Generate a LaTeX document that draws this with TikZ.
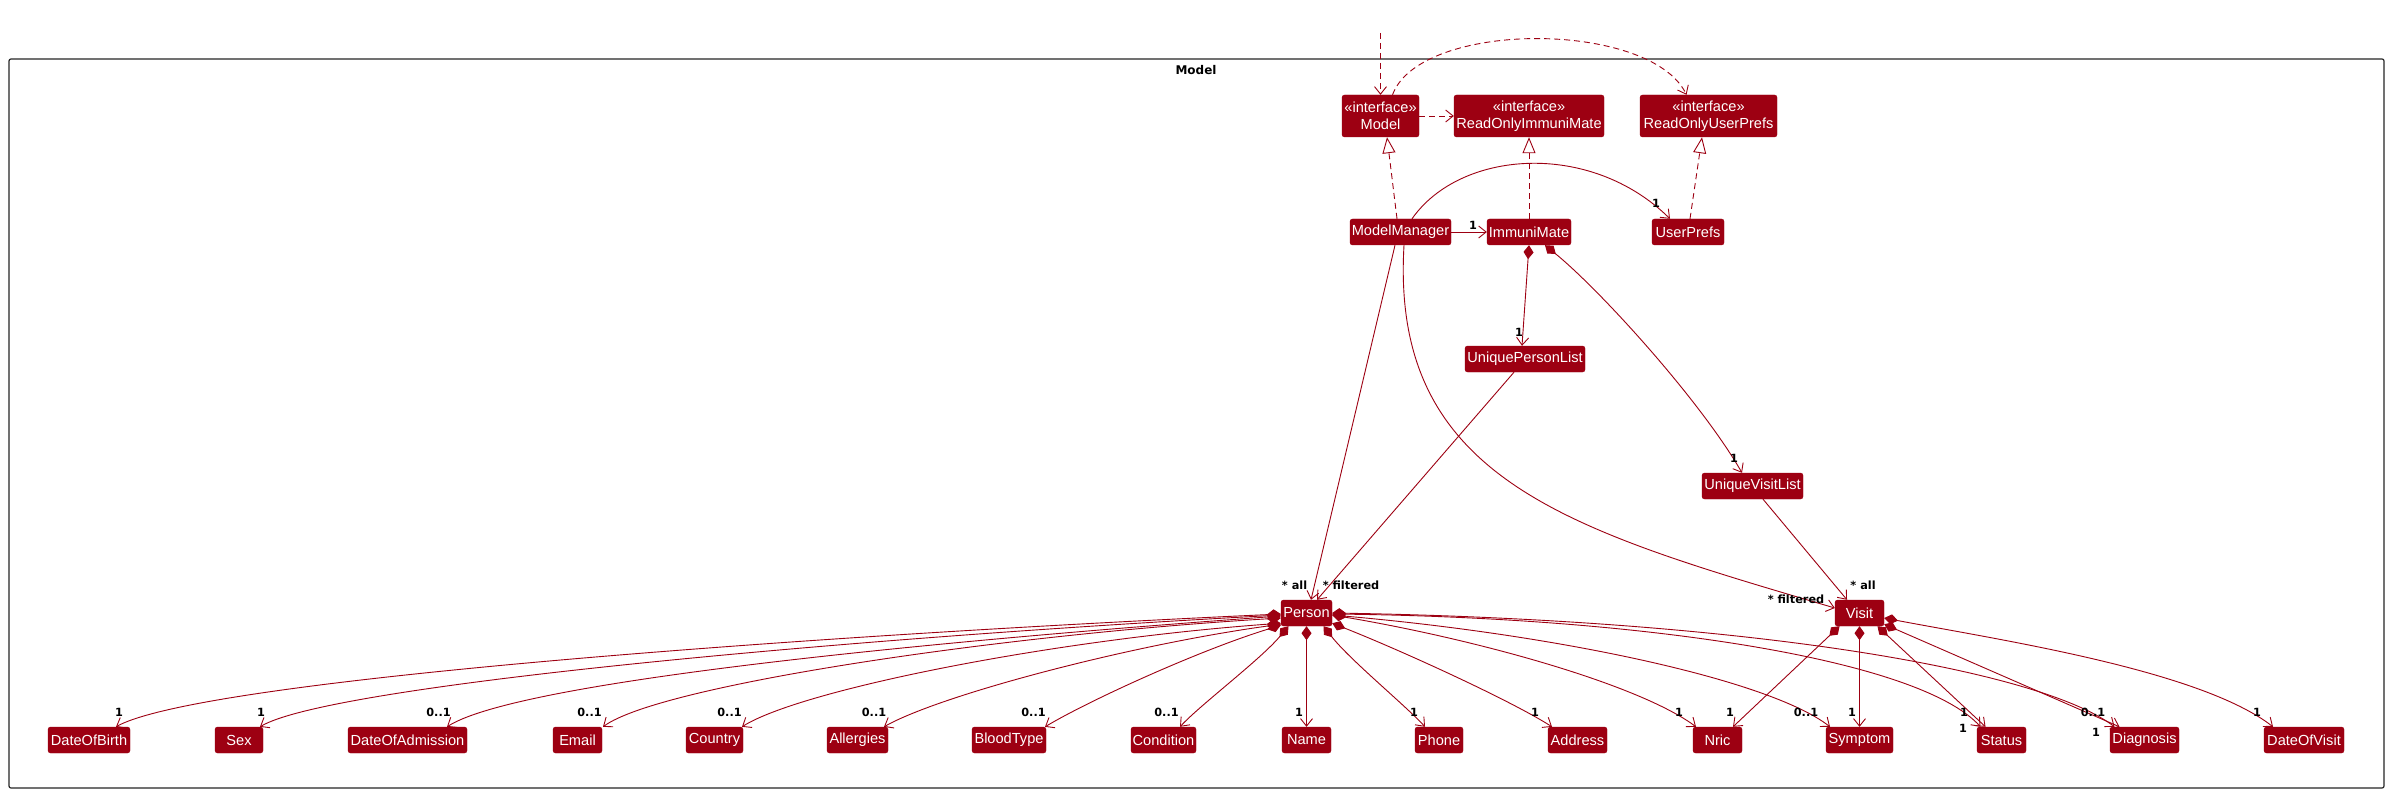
\documentclass[tikz,border=0pt]{standalone}
\usepackage{fontspec}
\setmainfont{Liberation Sans}
\newfontfamily\labfnt{DejaVu Sans}
\usetikzlibrary{arrows.meta,calc}
\definecolor{mred}{HTML}{9D0012}
\begin{document}
\begin{tikzpicture}[x=1pt,y=-1pt,
  cls/.style={rectangle, rounded corners=2.5pt, fill=mred, draw=mred, text=white,
    font=\fontsize{14.6}{17.5}\selectfont, minimum height=26pt, inner sep=0pt, align=center},
  iface/.style={cls, minimum height=42pt},
  mult/.style={font=\labfnt\bfseries\fontsize{11.3}{13}\selectfont, text=black, inner sep=0pt},
  edge/.style={draw=mred, line width=0.9pt},
  assoc/.style={edge, -{Straight Barb[length=7.5pt,width=12pt]}},
  comp/.style={edge, {Diamond[fill=mred,length=14pt,width=10pt]}-{Straight Barb[length=7.5pt,width=12pt]}},
  dep/.style={assoc, dash pattern=on 6pt off 4pt},
  real/.style={edge, dash pattern=on 6pt off 4pt, -{Triangle[open,fill=white,length=16pt,width=13pt]}},
]
\useasboundingbox[fill=white] (0,0) rectangle (2390,794);
\draw[line width=1.2pt, draw=black!85, rounded corners=2pt] (9,59) rectangle (2384,788);
\node[font=\labfnt\bfseries\fontsize{12}{14}\selectfont] (title) at (1196,70) {Model};

% classes
\node[iface, minimum width=77pt] (model) at (1380.5,116) {«interface»\\Model};
\node[iface, minimum width=150pt] (roim) at (1529,116) {«interface»\\ReadOnlyImmuniMate};
\node[iface, minimum width=137pt] (rousp) at (1708.5,116) {«interface»\\ReadOnlyUserPrefs};
\node[cls, minimum width=101pt] (mm) at (1400.5,232) {ModelManager};
\node[cls, minimum width=84pt] (im) at (1529,232) {ImmuniMate};
\node[cls, minimum width=72pt] (up) at (1688,232) {UserPrefs};
\node[cls, minimum width=120pt] (upl) at (1525,359) {UniquePersonList};
\node[cls, minimum width=101pt] (uvl) at (1752.5,486) {UniqueVisitList};
\node[cls, minimum width=51pt] (person) at (1306.5,613) {Person};
\node[cls, minimum width=49pt] (visit) at (1859.5,613) {Visit};

\node[cls, minimum width=82pt] (dob) at (89,740) {DateOfBirth};
\node[cls, minimum width=48pt] (sex) at (239,740) {Sex};
\node[cls, minimum width=119pt] (doa) at (407.5,740) {DateOfAdmission};
\node[cls, minimum width=49pt] (email) at (577.5,740) {Email};
\node[cls, minimum width=57pt] (country) at (714.5,740) {Country};
\node[cls, minimum width=61pt] (allergies) at (857.5,740) {Allergies};
\node[cls, minimum width=74pt] (bloodtype) at (1009,740) {BloodType};
\node[cls, minimum width=65pt] (condition) at (1163.5,740) {Condition};
\node[cls, minimum width=49pt] (name) at (1306.5,740) {Name};
\node[cls, minimum width=48pt] (phone) at (1439,740) {Phone};
\node[cls, minimum width=59pt] (address) at (1577.5,740) {Address};
\node[cls, minimum width=49pt] (nric) at (1717.5,740) {Nric};
\node[cls, minimum width=67pt] (symptom) at (1859.5,740) {Symptom};
\node[cls, minimum width=49pt] (status) at (2001.5,740) {Status};
\node[cls, minimum width=69pt] (diagnosis) at (2144.5,740) {Diagnosis};
\node[cls, minimum width=80pt] (dov) at (2304,740) {DateOfVisit};

% top connectors
\coordinate (topin) at (1380.5,33);
\draw[dep] (topin) -- (model.north);
\draw[dep] (model.east) -- (roim.west);
\draw[dep] ([xshift=12pt]model.north) .. controls (1420,20) and (1650,20) .. ([xshift=-22pt]rousp.north);
\draw[real] ([xshift=-3.5pt]mm.north) -- ([xshift=6.5pt]model.south);
\draw[real] (im.north) -- (roim.south);
\draw[real] ([xshift=2pt]up.north) -- ([xshift=-6.5pt]rousp.south);
\draw[assoc] ([xshift=11.5pt]mm.north) .. controls (1460,150) and (1590,140) .. ([xshift=-18pt]up.north);
\draw[assoc] (mm.east) -- (im.west);
\draw[comp] (im.south) -- ([xshift=-3pt]upl.north);
\draw[comp] ([xshift=16pt]im.south) .. controls (1600,290) and (1700,400) .. ([xshift=-10.5pt]uvl.north);

\draw[assoc] ([xshift=-5.5pt]mm.south) -- ([xshift=4.5pt]person.north);
\draw[assoc] ([xshift=-11pt]upl.south) -- ([xshift=10.5pt]person.north);
\draw[assoc] ([xshift=3.5pt]mm.south) .. controls (1390,480) and (1570,530) .. ([yshift=5pt]visit.west);
\draw[assoc] ([xshift=10.5pt]uvl.south) -- ([xshift=-12.5pt]visit.north);

% person fan
\draw[comp] ([yshift=-1pt]person.west) .. controls (800,636) and (200,680) .. ([xshift=27pt]dob.north);
\draw[comp] ([yshift=-2pt]person.west) .. controls (850,638) and (330,685) .. ([xshift=21pt]sex.north);
\draw[comp] ([yshift=-3pt]person.west) .. controls (950,640) and (520,680) .. ([xshift=39.5pt]doa.north);
\draw[comp] ([yshift=-5pt]person.west) .. controls (1000,635) and (660,685) .. ([xshift=25.5pt]email.north);
\draw[comp] ([yshift=3pt]person.south west) .. controls (1050,640) and (800,690) .. ([xshift=27.5pt]country.north);
\draw[comp] ([yshift=2pt]person.south west) .. controls (1130,645) and (940,695) .. ([xshift=26.5pt]allergies.north);
\draw[comp] ([yshift=1pt]person.south west) .. controls (1200,650) and (1090,700) .. ([xshift=36pt]bloodtype.north);
\draw[comp] ([xshift=-18pt]person.south) .. controls (1260,660) and (1200,705) .. ([xshift=16.5pt]condition.north);
\draw[comp] (person.south) -- (name.north);
\draw[comp] ([xshift=17pt]person.south) .. controls (1350,660) and (1405,705) .. ([xshift=-14pt]phone.north);
\draw[comp] ([yshift=3pt]person.south east) .. controls (1400,650) and (1510,700) .. ([xshift=-25.5pt]address.north);
\draw[comp] ([yshift=-2pt]person.east) .. controls (1480,640) and (1640,685) .. ([xshift=-21.5pt]nric.north);
\draw[comp] ([yshift=-2pt]person.east) .. controls (1560,635) and (1770,680) .. ([xshift=-29.5pt]symptom.north);
\draw[comp] ([yshift=-1pt]person.east) .. controls (1650,618) and (1920,660) .. ([xshift=-21pt]status.north);
\draw[comp] (person.east) .. controls (1750,620) and (2040,670) .. ([xshift=-30pt]diagnosis.north);

% visit fan
\draw[comp] ([xshift=-20pt]visit.south) -- ([xshift=15.5pt]nric.north);
\draw[comp] (visit.south) -- (symptom.north);
\draw[comp] ([xshift=18pt]visit.south) -- ([xshift=-16pt]status.north);
\draw[comp] ([yshift=2pt]visit.south east) -- ([xshift=-25pt]diagnosis.north);
\draw[comp] ([yshift=-5pt]visit.east) .. controls (2000,640) and (2200,670) .. ([xshift=-31pt]dov.north);

% labels
\node[mult] (lmi) at (1473,225) {1};
\node[mult] (lmu) at (1656,203) {1};
\node[mult] (lpl) at (1519,332) {1};
\node[mult] (lvl) at (1734,458) {1};
\node[mult] (lpa) at (1294.5,585) {* all};
\node[mult] (lpf) at (1351,585) {* filtered};
\node[mult] (lvf) at (1796,599) {* filtered};
\node[mult] (lva) at (1863,585) {* all};

\node[mult] (l1) at (119,712) {1};
\node[mult] (l2) at (261,712) {1};
\node[mult] (l3) at (438.5,712) {0..1};
\node[mult] (l4) at (589.5,712) {0..1};
\node[mult] (l5) at (729.5,712) {0..1};
\node[mult] (l6) at (874,712) {0..1};
\node[mult] (l7) at (1033.5,712) {0..1};
\node[mult] (l8) at (1166.5,712) {0..1};
\node[mult] (l9) at (1299,712) {1};
\node[mult] (l10) at (1414,712) {1};
\node[mult] (l11) at (1535,712) {1};
\node[mult] (l12) at (1679,712) {1};
\node[mult] (l13) at (1730,712) {1};
\node[mult] (l14) at (1806,712) {0..1};
\node[mult] (l15) at (1852,712) {1};
\node[mult] (l16) at (1964,712) {1};
\node[mult] (l17) at (1963,728) {1};
\node[mult] (l18) at (2093,712) {0..1};
\node[mult] (l19) at (2096,732) {1};
\node[mult] (l20) at (2257,712) {1};
\end{tikzpicture}
\end{document}
